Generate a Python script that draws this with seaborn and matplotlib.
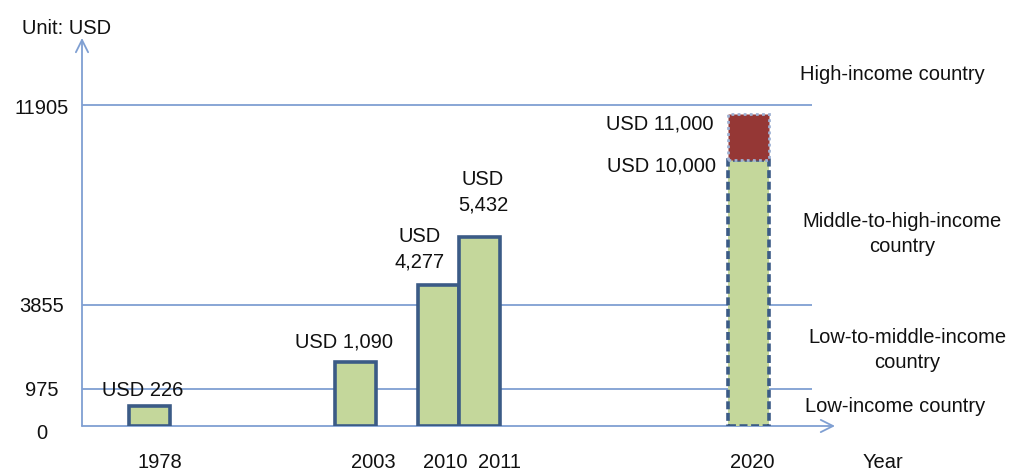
import numpy as np
import pandas as pd
import matplotlib
matplotlib.use("Agg")
import matplotlib.pyplot as plt
import seaborn as sns

# ---------------- data ----------------
years = ["1978", "2003", "2010", "2011", "2020"]
income = [226, 1090, 4277, 5432, 10000]
target_2020 = 11000
bar_labels = ["USD 226", "USD 1,090", "USD\n4,277", "USD\n5,432", "USD 10,000"]
target_label = "USD 11,000"
thresholds = [0, 975, 3855, 11905]
threshold_labels = ["0", "975", "3855", "11905"]
class_labels = ["High-income country", "Middle-to-high-income\ncountry",
                "Low-to-middle-income\ncountry", "Low-income country"]

# ---------------- layout ----------------
W, H = 1009, 473
bar_x = [149, 356, 439, 480, 749]          # bar centres (pixel-like x units)
year_label_x = [160, 373, 445, 500, 752]
# schematic (non-linear) vertical scale: value -> px above baseline
scale_values = [0, 226, 975, 1090, 3855, 4277, 5432, 10000, 11000, 11905, 16000]
scale_px = [0, 20, 37, 64, 121, 141, 189, 266, 312, 321, 392]
ylabel_dy = [-7, -1, -1, -3]

GREEN = "#c4d79b"
RED = "#953735"
EDGE = "#3b5b86"
AXIS = "#7f9fd2"
TXT = "#111111"
FONT = ["Liberation Sans", "DejaVu Sans"]
FS = 14.5

sns.set_style("white")
plt.rcParams["font.family"] = FONT
plt.rcParams["text.color"] = TXT

fig = plt.figure(figsize=(W / 100, H / 100), dpi=100)
x0, x1, ybase, ytop = 82, 835, 426, 38
ax = fig.add_axes([x0 / W, (H - ybase) / H, (x1 - x0) / W, (ybase - ytop) / H])

df = pd.DataFrame({"pos": bar_x, "value": income, "year": years})
sns.barplot(data=df, x="pos", y="value", native_scale=True, width=1.0,
            color=GREEN, saturation=1, errorbar=None,
            edgecolor=EDGE, linewidth=2.6, ax=ax, zorder=3)
bars = list(ax.patches)
bars[-1].set_linestyle((0, (2.2, 1.0)))

df_top = pd.DataFrame({"pos": [bar_x[-1]], "value": [target_2020 - income[-1]]})
sns.barplot(data=df_top, x="pos", y="value", native_scale=True,
            width=bars[-1].get_width(), bottom=income[-1],
            color=RED, saturation=1, errorbar=None,
            edgecolor="#9fb2d4", linewidth=2.0, linestyle=":", ax=ax, zorder=4)
ax.patches[-1].set_linestyle((0, (1, 1.2)))


def fwd(v):
    return np.interp(v, scale_values, scale_px)


def inv(p):
    return np.interp(p, scale_px, scale_values)


ax.set_yscale("function", functions=(fwd, inv))
ax.set_ylim(0, inv(ybase - ytop))
ax.set_xlim(x0, x1)
ax.set_xlabel("")
ax.set_ylabel("")
for s in ax.spines.values():
    s.set_visible(False)
ax.minorticks_off()
ax.set_xticks([])
ax.set_yticks([])

# y labels at the threshold values
for v, lab, dy in zip(thresholds, threshold_labels, ylabel_dy):
    ax.annotate(lab, xy=(x0, v), xytext=(-40, dy), textcoords="offset pixels",
                ha="center", va="center", fontsize=FS, annotation_clip=False)

# threshold lines
ax.hlines(thresholds[1:], x0, 812, color=AXIS, lw=1.3, zorder=1)

# axes with arrows
ax.annotate("", xy=(x1, 0), xytext=(x0, 0), xycoords="data",
            arrowprops=dict(arrowstyle="->", color=AXIS, lw=1.3, mutation_scale=22,
                            shrinkA=0, shrinkB=0), zorder=2, annotation_clip=False)
ax.annotate("", xy=(x0, inv(ybase - ytop)), xytext=(x0, 0), xycoords="data",
            arrowprops=dict(arrowstyle="->", color=AXIS, lw=1.3, mutation_scale=22,
                            shrinkA=0, shrinkB=0), zorder=2, annotation_clip=False)

# value labels
offsets = [(-6, 16), (-12, 20), (-19, 36), (3, 45)]
for xb, v, lab, (dx, dy) in zip(bar_x[:4], income[:4], bar_labels[:4], offsets):
    ax.annotate(lab, xy=(xb, v), xytext=(dx, dy), textcoords="offset pixels",
                ha="center", va="center", fontsize=FS, linespacing=1.45,
                annotation_clip=False)
ax.annotate(bar_labels[4], xy=(bar_x[4], income[4]), xytext=(-33, -6),
            textcoords="offset pixels", ha="right", va="center", fontsize=FS,
            annotation_clip=False)
ax.annotate(target_label, xy=(bar_x[4], target_2020), xytext=(-35, -10),
            textcoords="offset pixels", ha="right", va="center", fontsize=FS,
            annotation_clip=False)

# year labels
for xl, yr in zip(year_label_x, years):
    ax.annotate(yr, xy=(xl, 0), xytext=(0, -36), textcoords="offset pixels",
                ha="center", va="center", fontsize=FS, annotation_clip=False)


def ftext(px, py, s, **kw):
    fig.text(px / W, 1 - py / H, s, fontsize=FS, va="center", **kw)


ftext(22, 28, "Unit: USD", ha="left")
ftext(883, 462, "Year", ha="center")
ftext(892, 75, class_labels[0], ha="center")
ftext(902, 234, class_labels[1], ha="center", linespacing=1.4)
ftext(907, 350, class_labels[2], ha="center", linespacing=1.4)
ftext(895, 406, class_labels[3], ha="center")

fig.savefig("out.png", dpi=100)
